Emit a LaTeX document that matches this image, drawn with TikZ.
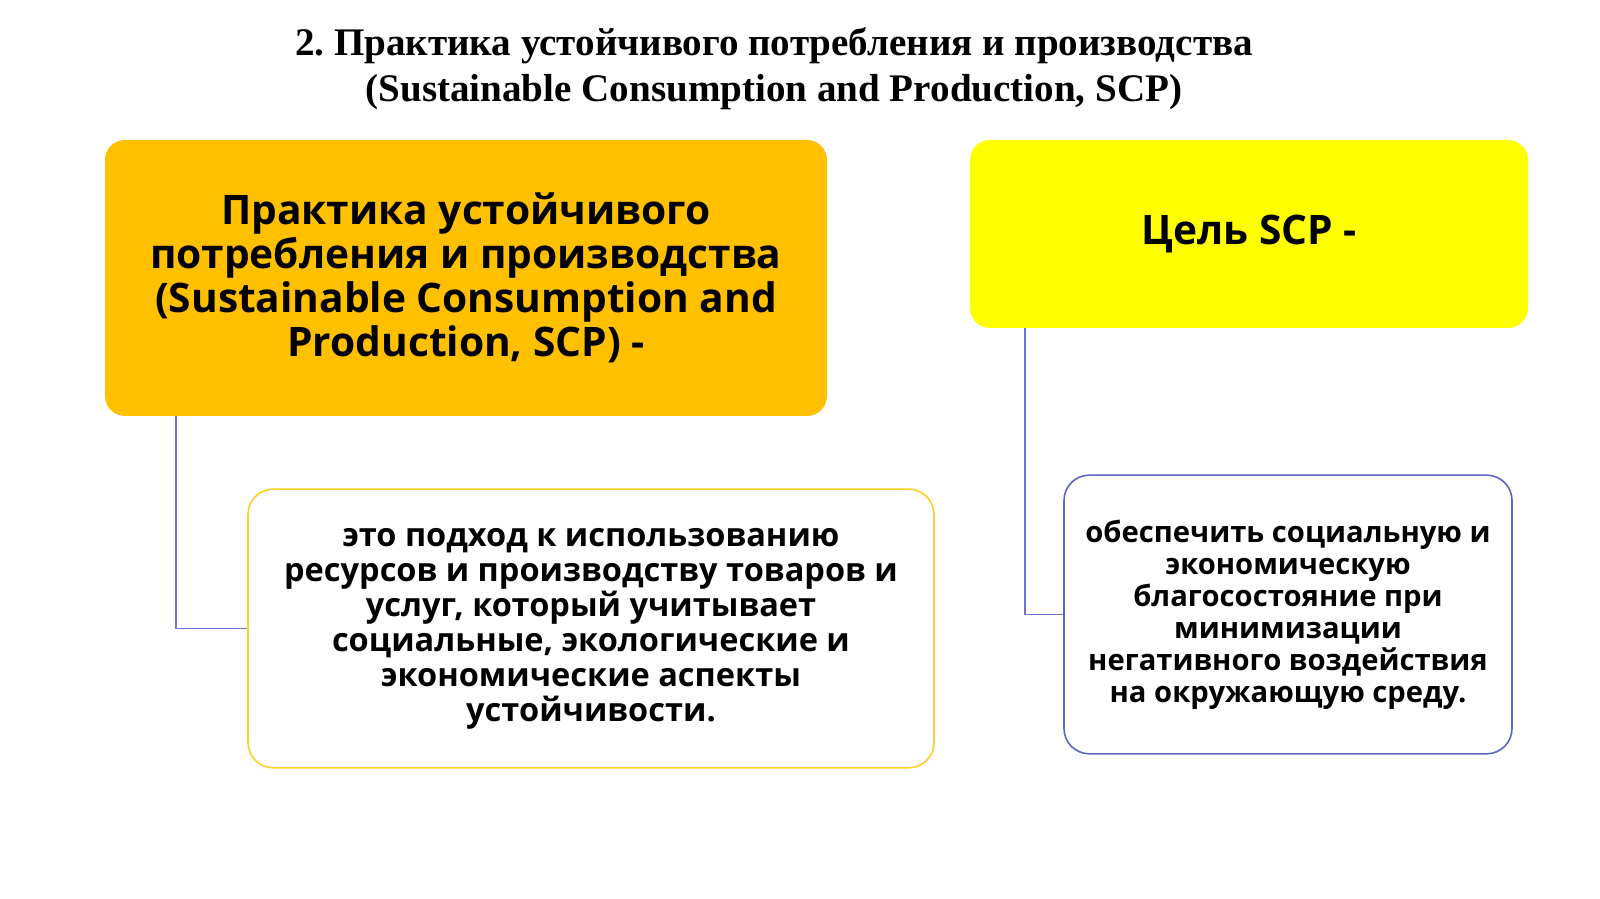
\documentclass[tikz,border=0pt]{standalone}
\usepackage{fontspec}
\setmainfont{Liberation Serif}
\newfontfamily\boxfont{Open Sans}
\definecolor{GoldFill}{HTML}{FFC000}
\definecolor{LemonFill}{HTML}{FFFF00}
\definecolor{GoldLine}{HTML}{FFCF26}
\definecolor{IndigoLine}{HTML}{5D64C6}
\definecolor{LinkBlue}{HTML}{7075CC}
\tikzset{
  headbox/.style={rounded corners=15pt, inner sep=0pt, align=center,
    font=\boxfont\bfseries\fontsize{30.5}{33}\selectfont},
  textbox/.style={draw, line width=1.2pt, fill=white, rounded corners=19pt,
    inner sep=0pt, align=center},
  link/.style={LinkBlue, line width=1.2pt}
}

\begin{document}
\begin{tikzpicture}[x=0.75pt,y=0.75pt]
\useasboundingbox[fill=white] (0,0) rectangle (1600,899);

% Title
\node[font=\bfseries\fontsize{29.3}{34.5}\selectfont, align=center] (title) at (774,830)
  {2.\ Практика устойчивого потребления и производства\\(Sustainable Consumption and Production, SCP)};

% Left column
\node[headbox, fill=GoldFill, minimum width=541.5pt, minimum height=207pt] (practice) at (466,621)
  {Практика устойчивого\\потребления и производства\\(Sustainable Consumption and\\Production, SCP) -};
\node[textbox, draw=GoldLine, minimum width=514.5pt, minimum height=209pt,
  font=\boxfont\bfseries\fontsize{24.4}{26.25}\selectfont] (definition) at (591,270.5)
  {это подход к использованию\\ресурсов и производству товаров и\\услуг, который учитывает\\социальные, экологические и\\экономические аспекты\\устойчивости.};

% Right column
\node[headbox, fill=LemonFill, minimum width=418.5pt, minimum height=141pt] (goal) at (1249,665)
  {Цель SCP -};
\node[textbox, draw=IndigoLine, minimum width=336pt, minimum height=209pt,
  font=\boxfont\bfseries\fontsize{21.9}{24}\selectfont] (aim) at (1288,284.5)
  {обеспечить социальную и\\экономическую\\благосостояние при\\минимизации\\негативного воздействия\\на окружающую среду.};

% Connectors
\draw[link] ([xshift=53.25pt]practice.south west) |- (definition.west);
\draw[link] ([xshift=41.25pt]goal.south west) |- (aim.west);

\end{tikzpicture}
\end{document}
